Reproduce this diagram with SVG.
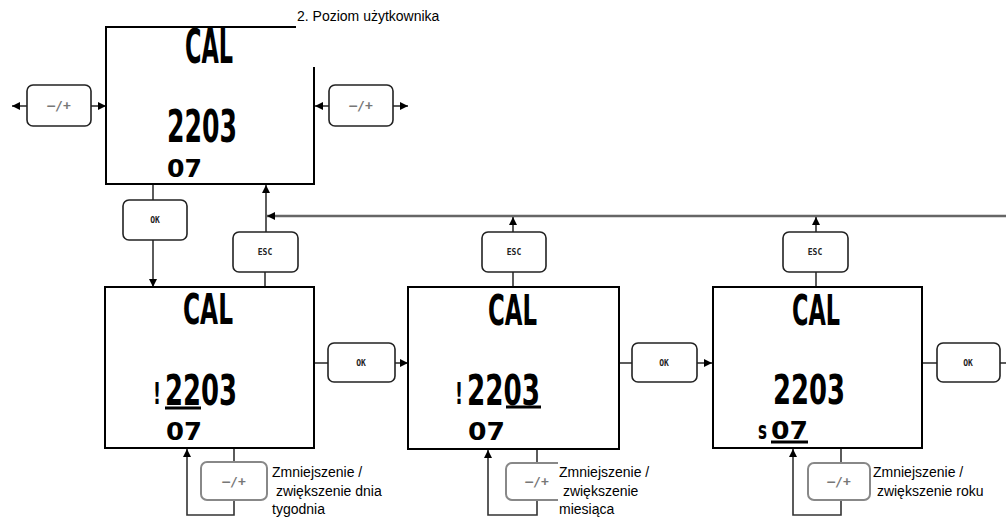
<svg xmlns="http://www.w3.org/2000/svg" width="1006" height="519" viewBox="0 0 1006 519">
<style>
.box{fill:#fff;stroke:#000;stroke-width:2}
.btn{fill:#fff;stroke:#222;stroke-width:1.6}
.btng{fill:#fff;stroke:#888;stroke-width:2}
.lcd{font-family:"DejaVu Sans Condensed","DejaVu Sans",sans-serif;font-weight:bold;fill:#000}
.bt{font-family:"DejaVu Sans Mono",monospace;font-weight:bold;font-size:8px;fill:#222;text-anchor:middle}
.pm{font-family:"DejaVu Sans Mono",monospace;font-weight:bold;font-size:13px;fill:#777;text-anchor:middle}
.lbl{font-family:"Liberation Sans",Arial,sans-serif;font-size:14px;fill:#000}
.c{fill:none;stroke:#333;stroke-width:1.6}
.cl{fill:none;stroke:#666;stroke-width:2.5}
.ul{stroke:#000;stroke-width:3}
</style>
<defs>
<marker id="ah" viewBox="0 0 10 10" refX="10" refY="5" markerWidth="8" markerHeight="8" markerUnits="userSpaceOnUse" orient="auto">
<path d="M0,0 L10,5 L0,10 z" fill="#000"/>
</marker>
</defs>

<g id="connectors">
<line class="c" x1="27" y1="106" x2="12" y2="106" marker-end="url(#ah)"/>
<line class="c" x1="91" y1="106" x2="106" y2="106" marker-end="url(#ah)"/>
<line class="c" x1="329" y1="106" x2="315" y2="106" marker-end="url(#ah)"/>
<line class="c" x1="393" y1="106" x2="408" y2="106" marker-end="url(#ah)"/>
<line class="c" x1="153" y1="184" x2="153" y2="200"/>
<line class="c" x1="153" y1="240" x2="153" y2="287" marker-end="url(#ah)"/>
<line class="c" x1="265" y1="272" x2="265" y2="287"/>
<line class="c" x1="266" y1="232" x2="266" y2="185" marker-end="url(#ah)"/>
<line class="cl" x1="1006" y1="216" x2="267" y2="216" marker-end="url(#ah)"/>
<line class="c" x1="513" y1="272" x2="513" y2="287"/>
<line class="c" x1="513" y1="232" x2="513" y2="217" marker-end="url(#ah)"/>
<line class="c" x1="816" y1="272" x2="816" y2="287"/>
<line class="c" x1="816" y1="232" x2="816" y2="217" marker-end="url(#ah)"/>
<line class="c" x1="314" y1="363" x2="328" y2="363"/>
<line class="c" x1="395" y1="363" x2="408" y2="363" marker-end="url(#ah)"/>
<line class="c" x1="619" y1="363" x2="632" y2="363"/>
<line class="c" x1="697" y1="363" x2="712" y2="363" marker-end="url(#ah)"/>
<line class="c" x1="922" y1="363" x2="937" y2="363"/>
<line class="c" x1="1000" y1="363" x2="1006" y2="363"/>
<line class="c" x1="234" y1="448" x2="234" y2="462"/>
<polyline class="c" points="234,500 234,515 187,515 187,449" marker-end="url(#ah)"/>
<line class="c" x1="537" y1="449" x2="537" y2="463"/>
<polyline class="c" points="537,500 537,515 488,515 488,450" marker-end="url(#ah)"/>
<line class="c" x1="841" y1="448" x2="841" y2="463"/>
<polyline class="c" points="841,500 841,515 793,515 793,449" marker-end="url(#ah)"/>
</g>

<g id="top-screen">
<rect x="106" y="27" width="208" height="157" fill="#fff"/>
<path class="box" fill="none" d="M296,27 L106,27 L106,184 L314,184 L314,67"/>
<text class="lcd" x="185" y="63" font-size="48" textLength="48" lengthAdjust="spacingAndGlyphs">CAL</text>
<text class="lcd" x="167" y="142" font-size="44" textLength="70" lengthAdjust="spacingAndGlyphs">2203</text>
<text class="lcd" x="167" y="177" font-size="25" textLength="35" lengthAdjust="spacingAndGlyphs">07</text>
</g>
<g id="top-label">
<text class="lbl" x="297" y="21">2. Poziom użytkownika</text>
</g>

<g id="btn-left-pm"><rect class="btn" x="27" y="85" width="64" height="41" rx="6"/><text class="pm" x="59" y="110">–/+</text></g>
<g id="btn-right-pm"><rect class="btn" x="329" y="85" width="64" height="41" rx="6"/><text class="pm" x="361" y="110">–/+</text></g>
<g id="btn-ok-top"><rect class="btn" x="123" y="200" width="64" height="40" rx="6"/><text class="bt" x="155" y="223">OK</text></g>
<g id="btn-esc-1"><rect class="btn" x="233" y="232" width="65" height="40" rx="6"/><text class="bt" x="265" y="255">ESC</text></g>
<g id="btn-esc-2"><rect class="btn" x="482" y="232" width="64" height="40" rx="6"/><text class="bt" x="514" y="255">ESC</text></g>
<g id="btn-esc-3"><rect class="btn" x="783" y="232" width="65" height="40" rx="6"/><text class="bt" x="815" y="255">ESC</text></g>

<g id="screen-day">
<rect class="box" x="105" y="287" width="209" height="161"/>
<text class="lcd" x="183" y="324" font-size="43" textLength="50" lengthAdjust="spacingAndGlyphs">CAL</text>
<text class="lcd" x="153" y="404" font-size="30" textLength="8" lengthAdjust="spacingAndGlyphs">!</text>
<text class="lcd" x="165" y="405" font-size="42" textLength="72" lengthAdjust="spacingAndGlyphs">2203</text>
<line class="ul" x1="165" y1="408" x2="201" y2="408"/>
<text class="lcd" x="166" y="440" font-size="25" textLength="36" lengthAdjust="spacingAndGlyphs">07</text>
</g>
<g id="screen-month">
<rect class="box" x="408" y="287" width="211" height="162"/>
<text class="lcd" x="488" y="325" font-size="43" textLength="49" lengthAdjust="spacingAndGlyphs">CAL</text>
<text class="lcd" x="455" y="404" font-size="30" textLength="8" lengthAdjust="spacingAndGlyphs">!</text>
<text class="lcd" x="467" y="405" font-size="42" textLength="73" lengthAdjust="spacingAndGlyphs">2203</text>
<line class="ul" x1="506" y1="407" x2="541" y2="407"/>
<text class="lcd" x="468" y="440" font-size="25" textLength="37" lengthAdjust="spacingAndGlyphs">07</text>
</g>
<g id="screen-year">
<rect class="box" x="713" y="287" width="209" height="161"/>
<text class="lcd" x="792" y="325" font-size="43" textLength="48" lengthAdjust="spacingAndGlyphs">CAL</text>
<text class="lcd" x="773" y="404" font-size="41" textLength="72" lengthAdjust="spacingAndGlyphs">2203</text>
<text class="lcd" x="758" y="439" font-size="24" textLength="9" lengthAdjust="spacingAndGlyphs">s</text>
<text class="lcd" x="771" y="439" font-size="24" textLength="37" lengthAdjust="spacingAndGlyphs">07</text>
<line class="ul" x1="771" y1="442" x2="808" y2="442"/>
</g>

<g id="btn-ok-1"><rect class="btn" x="328" y="343" width="67" height="39" rx="6"/><text class="bt" x="361" y="366">OK</text></g>
<g id="btn-ok-2"><rect class="btn" x="632" y="343" width="65" height="39" rx="6"/><text class="bt" x="664" y="366">OK</text></g>
<g id="btn-ok-3"><rect class="btn" x="937" y="343" width="63" height="39" rx="6"/><text class="bt" x="968" y="366">OK</text></g>

<g id="btn-pm-1"><rect class="btng" x="201" y="462" width="66" height="38" rx="6"/><text class="pm" x="234" y="486">–/+</text></g>
<g id="btn-pm-2"><rect class="btng" x="506" y="463" width="62" height="37" rx="6"/><text class="pm" x="537" y="486">–/+</text></g>
<g id="btn-pm-3"><rect class="btng" x="808" y="463" width="62" height="37" rx="6"/><text class="pm" x="839" y="486">–/+</text></g>

<g id="label-day">
<text class="lbl" x="272" y="477">Zmniejszenie /</text>
<text class="lbl" x="272" y="496" xml:space="preserve"> zwiększenie dnia</text>
<text class="lbl" x="272" y="514">tygodnia</text>
</g>
<g id="label-month">
<rect x="558" y="462" width="90" height="57" fill="#fff"/>
<text class="lbl" x="559" y="477">Zmniejszenie /</text>
<text class="lbl" x="559" y="496" xml:space="preserve"> zwiększenie</text>
<text class="lbl" x="559" y="514">miesiąca</text>
</g>
<g id="label-year">
<text class="lbl" x="873" y="477">Zmniejszenie /</text>
<text class="lbl" x="873" y="496" xml:space="preserve"> zwiększenie roku</text>
</g>
</svg>
